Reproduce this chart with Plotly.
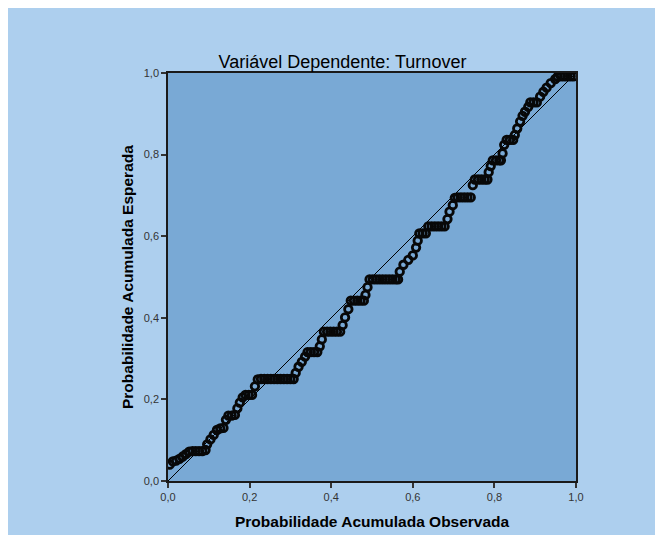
import plotly.graph_objects as go

observed = [
    0.004, 0.012, 0.020, 0.028, 0.036, 0.044, 0.052, 0.060, 0.068, 0.076, 0.084, 0.092,
    0.096, 0.104, 0.112, 0.120, 0.128, 0.136, 0.142, 0.148, 0.156, 0.164,
    0.170, 0.176, 0.183, 0.190, 0.198, 0.206, 0.213, 0.220,
    0.228, 0.236, 0.244, 0.252, 0.260, 0.268, 0.276, 0.284, 0.292, 0.300, 0.308,
    0.313, 0.320, 0.328, 0.336, 0.342, 0.350, 0.358, 0.366,
    0.372, 0.377, 0.382, 0.390, 0.398, 0.406, 0.414, 0.422,
    0.428, 0.434, 0.442, 0.448, 0.456, 0.464, 0.472, 0.480,
    0.484, 0.489, 0.494, 0.502, 0.510, 0.518, 0.526, 0.534, 0.542, 0.550, 0.558, 0.564,
    0.568, 0.577, 0.589, 0.600, 0.608, 0.612, 0.616, 0.624, 0.632,
    0.638, 0.646, 0.654, 0.662, 0.670, 0.678,
    0.685, 0.690, 0.698, 0.703, 0.710, 0.718, 0.726, 0.734, 0.742,
    0.747, 0.752, 0.760, 0.768, 0.776, 0.783,
    0.786, 0.791, 0.796, 0.804, 0.812, 0.816,
    0.820, 0.824, 0.830, 0.838, 0.846,
    0.850, 0.856, 0.863, 0.869, 0.875, 0.883, 0.888, 0.896, 0.904,
    0.912, 0.920, 0.928, 0.938, 0.949, 0.955, 0.963, 0.971, 0.979, 0.987, 0.995,
]
expected = [
    0.040, 0.048, 0.050, 0.054, 0.060, 0.066, 0.072, 0.073, 0.073, 0.073, 0.073, 0.076,
    0.090, 0.102, 0.113, 0.125, 0.129, 0.130, 0.150, 0.160, 0.160, 0.162,
    0.178, 0.192, 0.205, 0.211, 0.211, 0.211, 0.232, 0.249,
    0.250, 0.250, 0.250, 0.250, 0.250, 0.250, 0.250, 0.250, 0.250, 0.250, 0.250,
    0.265, 0.280, 0.292, 0.305, 0.316, 0.316, 0.316, 0.316,
    0.330, 0.347, 0.366, 0.366, 0.366, 0.366, 0.366, 0.366,
    0.382, 0.401, 0.421, 0.442, 0.442, 0.442, 0.442, 0.442,
    0.456, 0.475, 0.494, 0.494, 0.494, 0.494, 0.494, 0.494, 0.494, 0.494, 0.494, 0.494,
    0.513, 0.530, 0.542, 0.553, 0.572, 0.589, 0.607, 0.607, 0.607,
    0.624, 0.624, 0.624, 0.624, 0.624, 0.624,
    0.642, 0.660, 0.676, 0.694, 0.695, 0.695, 0.695, 0.695, 0.695,
    0.725, 0.739, 0.739, 0.739, 0.739, 0.739,
    0.757, 0.772, 0.786, 0.786, 0.786, 0.786,
    0.803, 0.824, 0.836, 0.836, 0.836,
    0.848, 0.864, 0.881, 0.895, 0.905, 0.917, 0.928, 0.928, 0.928,
    0.942, 0.954, 0.964, 0.975, 0.985, 0.991, 0.992, 0.992, 0.992, 0.992, 0.992,
]
reference_line = [0.0, 1.0]
tick_values = [0.0, 0.2, 0.4, 0.6, 0.8, 1.0]

title_text = "Variável Dependente: Turnover"
x_title = "Probabilidade Acumulada Observada"
y_title = "Probabilidade Acumulada Esperada"

OUTER_BG = "#ADCFEE"
PLOT_BG = "#79A9D5"
FONT = "Liberation Sans, Arial, sans-serif"

fig = go.Figure()
fig.add_trace(go.Scatter(
    x=reference_line, y=reference_line, mode="lines",
    line=dict(color="#000000", width=1), hoverinfo="skip", showlegend=False,
))
fig.add_trace(go.Scatter(
    x=observed, y=expected, mode="markers",
    marker=dict(symbol="circle-open", size=7.5, color="#080808",
                line=dict(color="#080808", width=2.8)),
    showlegend=False,
))

# The page places the figure at an 8px offset; the figure fills the rest of the window.
OFF = 8
W, H = 663 - OFF, 535 - OFF
L, T = 168 - OFF, 73 - OFF
R, B = 576 - OFF, 481 - OFF
pw, ph = R - L, B - T


def px_to_paper_x(px):
    return (px - OFF - L) / pw


def px_to_paper_y(py):
    return (B - (py - OFF)) / ph


axis_common = dict(
    range=[0, 1], tickvals=tick_values, tickformat=".1f",
    showgrid=False, zeroline=False,
    showline=True, linecolor="#1a1a1a", linewidth=1.5, mirror=True,
    ticks="outside", ticklen=5, tickwidth=1.5, tickcolor="#333333",
    tickfont=dict(family=FONT, size=11, color="#333333"),
    fixedrange=True,
)

fig.update_layout(
    width=W, height=H,
    margin=dict(l=L, r=W - R, t=T, b=H - B, pad=0),
    paper_bgcolor=OUTER_BG, plot_bgcolor=PLOT_BG,
    separators=", ",
    xaxis=dict(**axis_common),
    yaxis=dict(**axis_common),
    title=dict(text=title_text, x=(342.5 - OFF) / W, xref="container", xanchor="center",
               y=1 - (62 - OFF) / H, yref="container", yanchor="middle",
               font=dict(family=FONT, size=18, color="#000000")),
    annotations=[
        dict(text=f"<b>{x_title}</b>", x=0.5, y=px_to_paper_y(521), xref="paper", yref="paper",
             showarrow=False, xanchor="center", yanchor="middle",
             font=dict(family=FONT, size=15.5, color="#000000")),
        dict(text=f"<b>{y_title}</b>", x=px_to_paper_x(127), y=0.5, xref="paper", yref="paper",
             showarrow=False, xanchor="center", yanchor="middle", textangle=-90,
             font=dict(family=FONT, size=15.5, color="#000000")),
    ],
)

fig.write_html("out.html")
